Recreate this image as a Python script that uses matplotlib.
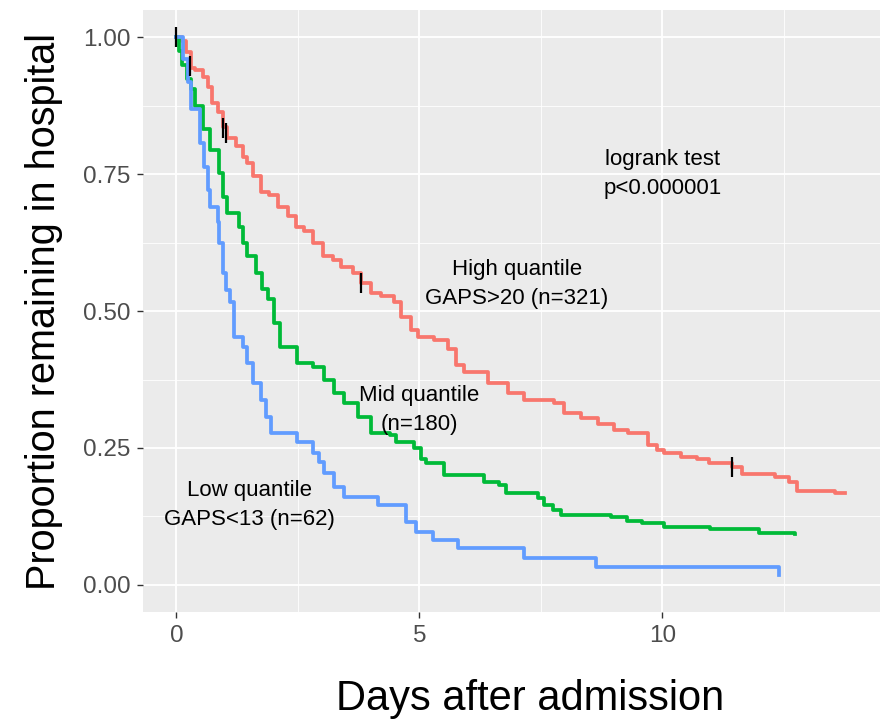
import numpy as np
import matplotlib
matplotlib.use("Agg")
import matplotlib.pyplot as plt
from matplotlib.ticker import MultipleLocator

plt.rcParams['font.family'] = ['Liberation Sans', 'DejaVu Sans']

# Kaplan-Meier estimates (time in days, proportion)
high_t = [0.00, 0.12, 0.19, 0.29, 0.39, 0.54, 0.64, 0.74, 0.85, 0.95, 1.05, 1.22,
          1.36, 1.46, 1.57, 1.73, 1.90, 2.08, 2.29, 2.45, 2.62, 2.80, 3.01, 3.22,
          3.38, 3.63, 3.79, 4.00, 4.21, 4.47, 4.62, 4.82, 4.97, 5.30, 5.59, 5.75,
          5.92, 6.41, 6.82, 7.15, 7.77, 7.98, 8.33, 8.68, 9.01, 9.30, 9.71, 9.88,
          10.04, 10.39, 10.70, 10.95, 11.42, 11.63, 12.31, 12.60, 12.76, 13.54, 13.75]
high_s = [1.000, 0.993, 0.973, 0.945, 0.941, 0.927, 0.909, 0.881, 0.863, 0.837, 0.817, 0.801,
          0.782, 0.771, 0.746, 0.718, 0.713, 0.691, 0.673, 0.653, 0.646, 0.625, 0.600, 0.594,
          0.580, 0.570, 0.552, 0.534, 0.527, 0.517, 0.490, 0.466, 0.453, 0.448, 0.430, 0.402,
          0.388, 0.369, 0.351, 0.338, 0.333, 0.314, 0.305, 0.294, 0.283, 0.278, 0.256, 0.247,
          0.241, 0.234, 0.229, 0.223, 0.216, 0.203, 0.196, 0.188, 0.172, 0.168, 0.168]

mid_t = [0.00, 0.06, 0.12, 0.21, 0.29, 0.39, 0.54, 0.70, 0.87, 0.95, 1.05, 1.28, 1.38, 1.46,
         1.63, 1.77, 1.88, 2.00, 2.14, 2.49, 2.82, 3.03, 3.24, 3.44, 3.73, 4.00,
         4.40, 4.52, 4.89, 5.03, 5.13, 5.51, 6.33, 6.64, 6.78, 7.44, 7.57, 7.75,
         7.92, 8.95, 9.26, 9.57, 10.04, 10.97, 11.98, 12.72]
mid_s = [1.000, 0.975, 0.950, 0.925, 0.905, 0.874, 0.832, 0.795, 0.753, 0.709, 0.680, 0.654, 0.625, 0.600,
         0.570, 0.541, 0.523, 0.479, 0.435, 0.406, 0.397, 0.375, 0.351, 0.333, 0.307, 0.278,
         0.274, 0.261, 0.250, 0.229, 0.223, 0.201, 0.188, 0.183, 0.168, 0.159, 0.146, 0.137,
         0.128, 0.124, 0.117, 0.112, 0.106, 0.101, 0.095, 0.093]

low_t = [0.00, 0.14, 0.23, 0.29, 0.49, 0.56, 0.64, 0.70, 0.85, 0.87, 0.95, 1.01,
         1.11, 1.18, 1.36, 1.46, 1.57, 1.73, 1.84, 1.94, 2.49, 2.82, 2.93, 3.03,
         3.24, 3.44, 4.14, 4.72, 4.93, 5.28, 5.79, 7.15, 8.64, 12.39, 12.40]
low_s = [1.000, 0.960, 0.918, 0.870, 0.808, 0.764, 0.722, 0.691, 0.662, 0.625, 0.570, 0.539,
         0.516, 0.453, 0.435, 0.406, 0.369, 0.338, 0.307, 0.278, 0.260, 0.241, 0.225, 0.205,
         0.179, 0.161, 0.146, 0.115, 0.097, 0.082, 0.068, 0.049, 0.033, 0.018, 0.018]

# censored observations (high group)
cens_t = [0.00, 0.27, 0.95, 1.01, 3.80, 11.42]
cens_s = [1.000, 0.947, 0.835, 0.826, 0.552, 0.216]

fig = plt.figure(figsize=(8.82, 7.21), dpi=100)
ax = fig.add_axes([0.162, 0.151, 0.836, 0.835])
ax.set_facecolor('#EBEBEB')

ax.step(high_t, high_s, where='post', color='#F8766D', lw=2.7, zorder=3)
ax.step(mid_t, mid_s, where='post', color='#00BA38', lw=2.7, zorder=3)
ax.step(low_t, low_s, where='post', color='#619CFF', lw=2.7, zorder=3)
ax.plot(cens_t, cens_s, ls='none', marker='|', ms=14, mew=1.6, color='black', zorder=4)

ax.set_xlim(-0.69, 14.48)
ax.set_ylim(-0.05, 1.05)
ax.xaxis.set_major_locator(MultipleLocator(5))
ax.xaxis.set_minor_locator(MultipleLocator(2.5))
ax.yaxis.set_major_locator(MultipleLocator(0.25))
ax.yaxis.set_minor_locator(MultipleLocator(0.125))
ax.yaxis.set_major_formatter(matplotlib.ticker.FormatStrFormatter('%.2f'))
ax.grid(which='major', color='white', lw=1.3)
ax.grid(which='minor', color='white', lw=0.6)
ax.set_axisbelow(True)
for sp in ax.spines.values():
    sp.set_visible(False)
ax.tick_params(which='major', length=4, width=1, color='#333333',
               labelsize=17.5, labelcolor='#4D4D4D', pad=5)
ax.tick_params(which='minor', length=0)

ax.set_xlabel('Days after admission', fontsize=30, labelpad=23)
ax.xaxis.label.set_x(0.525)
ax.set_ylabel('Proportion remaining in hospital', fontsize=28.5, labelpad=14)

txt = dict(fontsize=16, ha='center', va='center', linespacing=1.5, zorder=5)
ax.text(10, 0.75, 'logrank test\np<0.000001', **txt)
ax.text(7, 0.55, 'High quantile\nGAPS>20 (n=321)', **txt)
ax.text(5, 0.32, 'Mid quantile\n(n=180)', **txt)
ax.text(1.5, 0.146, 'Low quantile\nGAPS<13 (n=62)', **txt)

fig.savefig('out.png', dpi=100)
